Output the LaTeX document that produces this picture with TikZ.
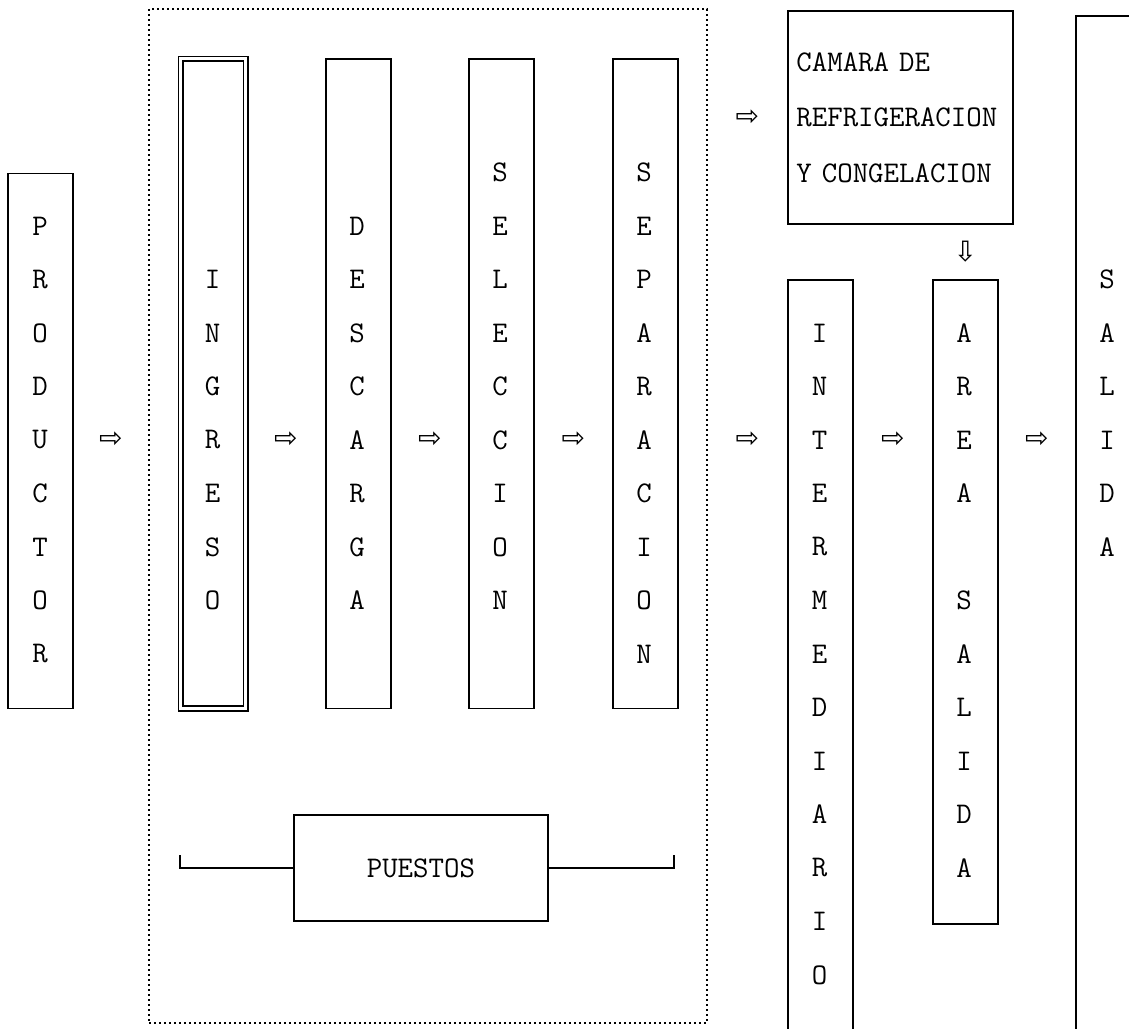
\documentclass[tikz,border=0pt]{standalone}
\usepackage{fontspec}
\newfontfamily\arrowfont{DejaVu Sans}
\newcommand{\vword}[4]{%
  \foreach \ltr [count=\k from 0] in {#4}
    \node[letter] (#1-\k) at (#2, #3+53.5*\k) {\ltr};}

\begin{document}
\begin{tikzpicture}[x=0.5pt, y=-0.5pt,
  box/.style={draw, line width=0.9pt, anchor=north west, minimum width=32.5pt, inner sep=0pt},
  letter/.style={font=\ttfamily\fontsize{15pt}{15pt}\selectfont, inner sep=0pt},
  flow/.style={font=\arrowfont\fontsize{14pt}{14pt}\selectfont, inner sep=0pt}]
\clip (0,0) rectangle (1129,1028);
% dotted frame round the market
\node[draw, line width=0.8pt, dash pattern=on 1pt off 1.5pt, anchor=north west, minimum width=279pt, minimum height=507pt, inner sep=0pt] (frame) at (148,8) {};
% columns
\node[box, minimum height=267.5pt] (prod) at (7,172.5) {};
\node[box, double, double distance=1.5pt, minimum height=324.75pt] (ingreso) at (180,58) {};
\node[box, minimum height=324.75pt] (descarga) at (325,58) {};
\node[box, minimum height=324.75pt] (seleccion) at (468,58) {};
\node[box, minimum height=324.75pt] (separacion) at (612,58) {};
\node[box, minimum height=380.5pt] (inter) at (787,279) {};
\node[box, minimum height=322pt] (area) at (932,279) {};
\node[box, minimum height=514pt] (salida) at (1075,15) {};
\node[box, minimum width=112.5pt, minimum height=106.5pt, inner xsep=4.25pt, text width=104pt, align=left,
  font=\ttfamily\fontsize{15pt}{27.75pt}\selectfont] (camara) at (787,10) {CAMARA DE\\REFRIGERACION\\Y CONGELACION};
\node[box, minimum width=127pt, minimum height=53pt, font=\ttfamily\fontsize{15pt}{15pt}\selectfont] (puestos) at (293,814) {PUESTOS};
% letters
\vword{prod}{40}{226}{P,R,O,D,U,C,T,O,R}
\vword{ingreso}{212.5}{279.5}{I,N,G,R,E,S,O}
\vword{descarga}{357}{226}{D,E,S,C,A,R,G,A}
\vword{seleccion}{500}{172.5}{S,E,L,E,C,C,I,O,N}
\vword{separacion}{644}{172.5}{S,E,P,A,R,A,C,I,O,N}
\vword{inter}{819.5}{333}{I,N,T,E,R,M,E,D,I,A,R,I,O}
\vword{area}{964}{333}{A,R,E,A,{},S,A,L,I,D,A}
\vword{salida}{1107}{279.5}{S,A,L,I,D,A}
% bracket under the columns
\coordinate (bl) at (180,855);
\coordinate (br) at (674,855);
\draw[line width=0.9pt] (puestos.west) -| (bl);
\draw[line width=0.9pt] (puestos.east) -| (br);
% flow arrows
\coordinate (mid) at (0,440);
\path (prod.east |- mid) -- node[flow] (f1) {⇨} (frame.west |- mid);
\path (ingreso.east |- mid) -- node[flow] (f2) {⇨} (descarga.west |- mid);
\path (descarga.east |- mid) -- node[flow] (f3) {⇨} (seleccion.west |- mid);
\path (seleccion.east |- mid) -- node[flow] (f4) {⇨} (separacion.west |- mid);
\path (frame.east |- mid) -- node[flow] (f5) {⇨} (inter.west |- mid);
\path (inter.east |- mid) -- node[flow] (f6) {⇨} (area.west |- mid);
\path (area.east |- mid) -- node[flow] (f7) {⇨} (salida.west |- mid);
\path (frame.east |- camara.west) -- node[flow] (f8) {⇨} (camara.west);
\path (camara.south -| area.north) -- node[flow] (f9) {⇩} (area.north);
\end{tikzpicture}
\end{document}
